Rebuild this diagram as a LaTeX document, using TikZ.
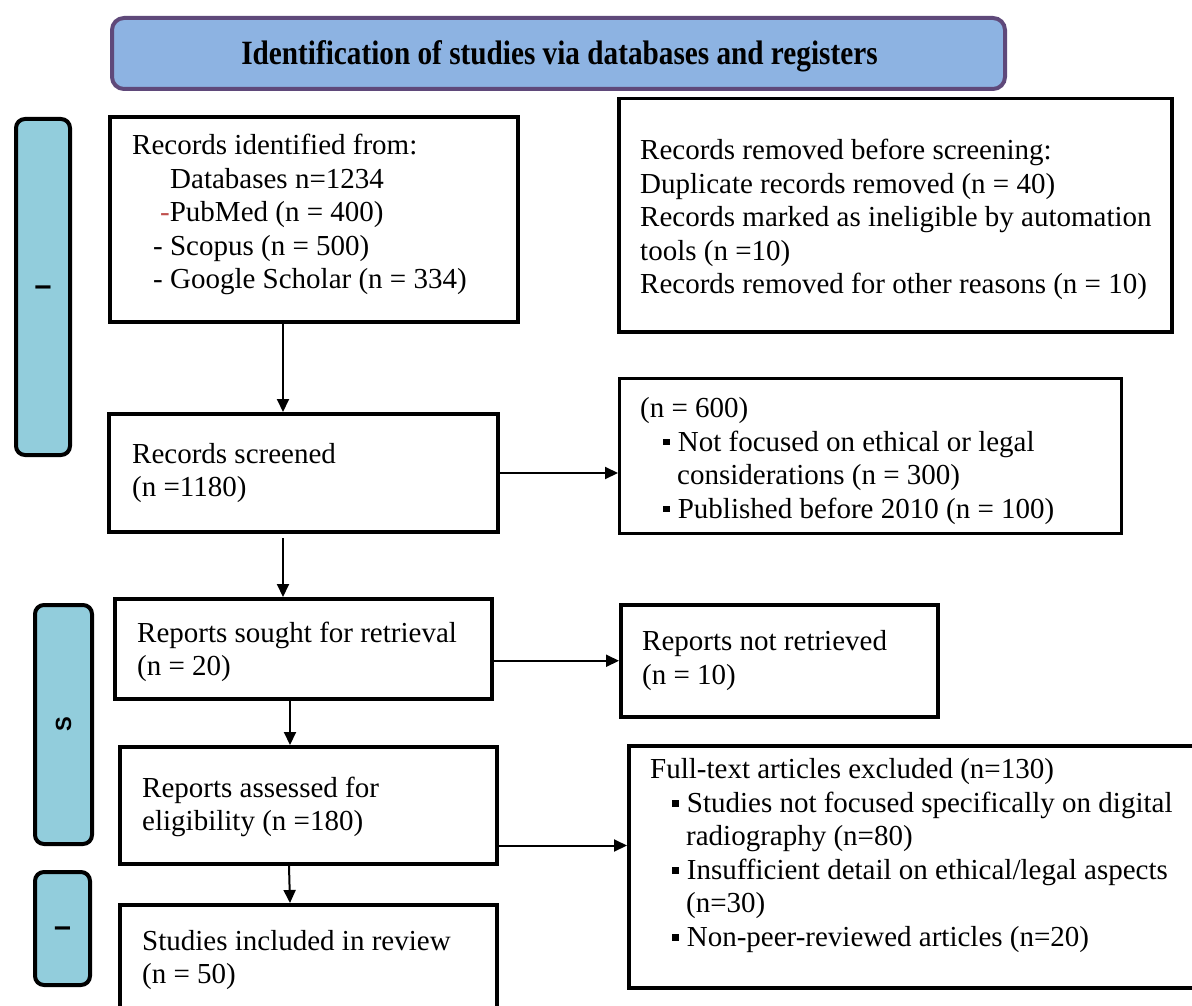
\documentclass[tikz,border=0pt]{standalone}
\usepackage{fontspec}
\setmainfont{Liberation Serif}
\newfontfamily\sidefont{Liberation Sans}
\usepackage{graphicx}
\usetikzlibrary{arrows.meta}
\definecolor{hdrfill}{HTML}{8DB3E2}
\definecolor{hdrline}{HTML}{5F497A}
\definecolor{sidefill}{HTML}{92CDDC}
\definecolor{dashred}{HTML}{C0504D}
\newcommand{\sqb}{\rule[0.2em]{0.23em}{0.23em}}
\newcommand{\sidetext}[1]{\rotatebox{90}{\sidefont\bfseries\fontsize{22}{22}\selectfont #1}}
\tikzset{
  mainbox/.style={draw=black, line width=4pt, anchor=north west, inner sep=0pt},
  sidebar/.style={draw=black, fill=sidefill, line width=4pt, rounded corners=9pt, anchor=north west, inner sep=0pt},
  txt/.style={anchor=west, align=left, inner sep=0pt, font=\fontsize{29}{33.5}\selectfont},
  arr/.style={line width=2pt, -{Triangle[length=13pt,width=12pt]}},
}
\begin{document}
\begin{tikzpicture}[x=1pt,y=-1pt]
\fill[white] (0,0) rectangle (1192,1006);
\useasboundingbox (0,0) rectangle (1192,1006);

% header
\node[draw=hdrline, fill=hdrfill, line width=4pt, rounded corners=12pt, minimum width=893pt, minimum height=71pt, anchor=north west, inner sep=0pt] (hdr) at (110,16) {};
\node[inner sep=0pt, font=\fontsize{34}{40}\selectfont\bfseries] (hdrt) at ([xshift=1pt,yshift=-2.5pt]hdr.center)
  {\scalebox{0.86}[1]{Identification of studies via databases and registers}};

% side bars
\node[sidebar, minimum width=54pt, minimum height=336pt] (side1) at (14,117) {\sidetext{I}};
\node[sidebar, minimum width=57pt, minimum height=239pt] (side2) at (33,603) {\sidetext{S}};
\node[sidebar, minimum width=55pt, minimum height=113pt] (side3) at (33,870) {\sidetext{I}};

% boxes
\node[mainbox, minimum width=408pt, minimum height=205pt] (ident) at (108,115) {};
\node[mainbox, line width=3.5pt, minimum width=553pt, minimum height=233pt] (rem) at (617,97) {};
\node[mainbox, minimum width=389pt, minimum height=118pt] (scr) at (107,412) {};
\node[mainbox, line width=3pt, minimum width=502pt, minimum height=155pt] (ex1) at (618,377) {};
\node[mainbox, minimum width=377pt, minimum height=100pt] (sought) at (113,597) {};
\node[mainbox, line width=3.5pt, minimum width=317pt, minimum height=112pt] (notret) at (619,603) {};
\node[mainbox, minimum width=377pt, minimum height=117pt] (assess) at (118,745) {};
\node[mainbox, line width=3.5pt, minimum width=583pt, minimum height=242pt] (excl) at (627,744) {};
\node[mainbox, minimum width=377pt, minimum height=127pt] (incl) at (118,903) {};

% texts
\node[txt] (identt) at ([xshift=24pt,yshift=5pt]ident.west) {Records identified from:\\
  \hspace*{38pt}Databases n=1234\\
  \hspace*{28pt}\textcolor{dashred}{-}PubMed (n = 400)\\
  \hspace*{21pt}- Scopus (n = 500)\\
  \hspace*{21pt}- Google Scholar (n = 334)};
\node[txt] (remt) at ([xshift=23pt,yshift=-4.5pt]rem.west) {Records removed before screening:\\
  Duplicate records removed (n = 40)\\
  Records marked as ineligible by automation\\
  tools (n =10)\\
  Records removed for other reasons (n = 10)};
\node[txt] (scrt) at ([xshift=25pt]scr.west) {Records screened\\(n =1180)};
\node[txt] (ex1t) at ([xshift=22pt,yshift=-5pt]ex1.west) {(n = 600)\\
  \hspace*{23pt}\sqb\hspace{8pt}Not focused on ethical or legal\\
  \hspace*{37pt}considerations (n = 300)\\
  \hspace*{23pt}\sqb\hspace{8pt}Published before 2010 (n = 100)};
\node[txt] (soughtt) at ([xshift=24pt,yshift=-3pt]sought.west) {Reports sought for retrieval\\(n = 20)};
\node[txt] (notrett) at ([xshift=23pt]notret.west) {Reports not retrieved\\(n = 10)};
\node[txt] (assesst) at ([xshift=24pt,yshift=-1.5pt]assess.west) {Reports assessed for\\eligibility (n =180)};
\node[txt] (exclt) at ([xshift=23pt,yshift=11pt]excl.west) {Full-text articles excluded (n=130)\\
  \hspace*{22pt}\sqb\hspace{8pt}Studies not focused specifically on digital\\
  \hspace*{36pt}radiography (n=80)\\
  \hspace*{22pt}\sqb\hspace{8pt}Insufficient detail on ethical/legal aspects\\
  \hspace*{36pt}(n=30)\\
  \hspace*{22pt}\sqb\hspace{8pt}Non-peer-reviewed articles (n=20)};
\node[txt] (inclt) at ([xshift=24pt,yshift=8.5pt]incl.west) {Studies included in review\\(n = 50)};

% connectors
\coordinate (a1) at ([xshift=-31pt]ident.south);
\draw[arr] (a1) -- (a1 |- scr.north);
\coordinate (a2) at ([xshift=-20.5pt,yshift=-4pt]scr.south);
\draw[arr] (a2) -- (a2 |- sought.north);
\coordinate (a3) at ([xshift=-13.5pt]sought.south);
\draw[arr] (a3) -- (a3 |- assess.north);
\coordinate (a4) at ([xshift=-19.5pt]assess.south);
\draw[arr] (a4) -- ([xshift=-18.5pt]incl.north);
\draw[arr] (scr.east) -- (scr.east -| ex1.west);
\draw[arr] (sought.east |- notret.west) -- (notret.west);
\coordinate (a5) at ([yshift=-40pt]assess.east);
\draw[arr] (a5) -- (a5 -| excl.west);
\end{tikzpicture}
\end{document}
